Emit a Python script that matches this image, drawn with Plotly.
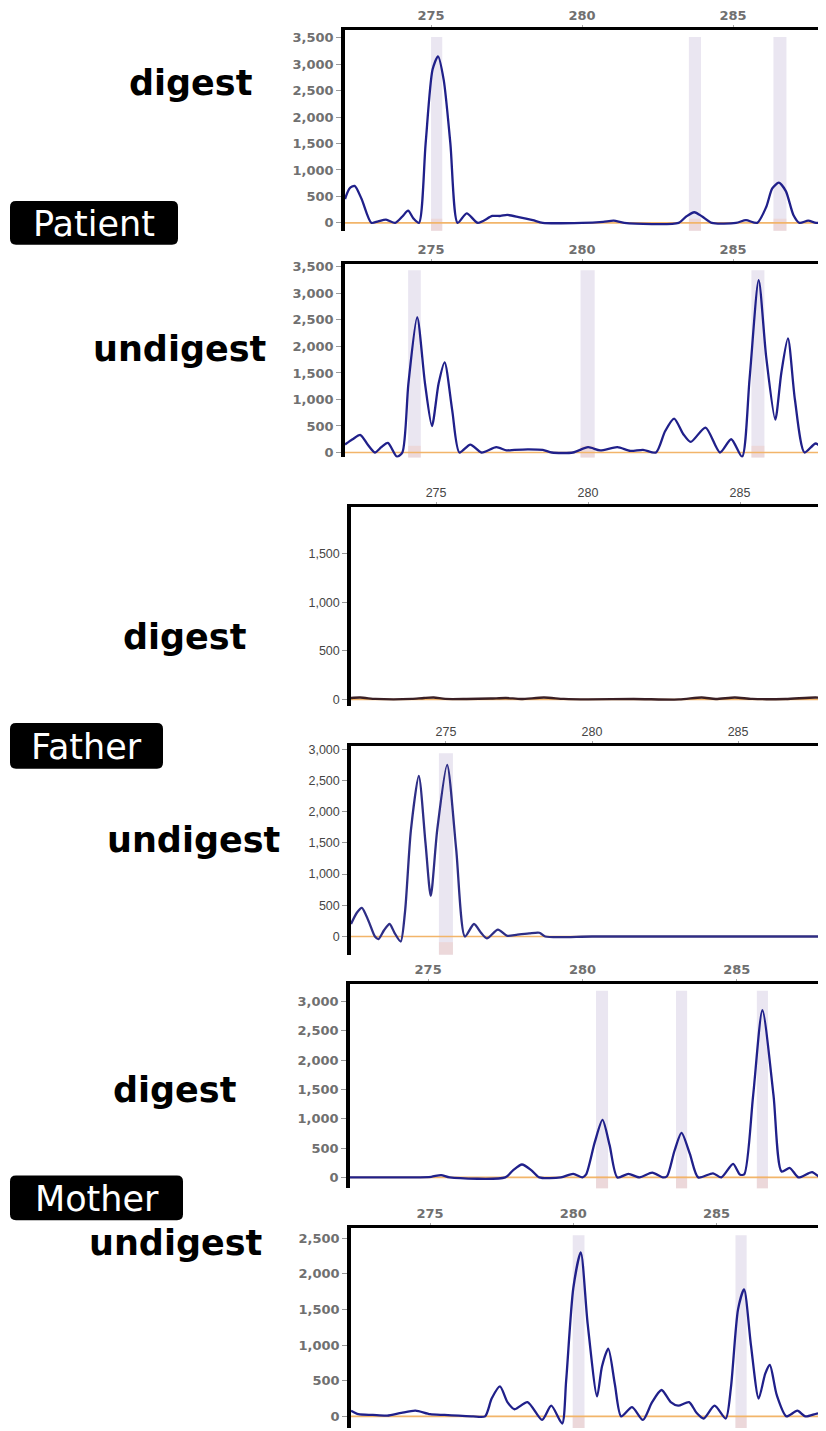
import plotly.graph_objects as go

# page body has an 8px default margin, so the figure is drawn offset by 8px
OFF = 8
W, H = 826 - OFF, 1431 - OFF

# ---------------- data (fragment size in bp vs. signal RFU) ----------------
p1_size = [272.15, 272.3, 272.47, 272.7, 273.02, 273.25, 273.51, 273.81, 274.05, 274.24, 274.42, 274.6,
           274.82, 275.05, 275.23, 275.42, 275.64, 275.88, 276.18, 276.55, 277.03, 277.3, 277.52, 277.9,
           278.37, 278.7, 280.0, 280.7, 281.05, 281.4, 283.2, 283.45, 283.72, 283.98, 284.3, 285.1,
           285.43, 285.8, 286.1, 286.3, 286.52, 286.75, 287.0, 287.2, 287.49, 287.75, 288.08]
p1_rfu = [450, 650, 700, 450, 0, 30, 60, 0, 120, 230, 80, 0,
          1500, 2900, 3150, 2700, 1500, 0, 180, 0, 130, 130, 150, 110,
          50, 0, 0, 20, 40, 0, 0, 120, 200, 120, 0, 0,
          50, 0, 300, 650, 760, 600, 150, 0, 40, 0, 0]
p1_band_lo = [275.0, 283.54, 286.34]
p1_band_hi = [275.37, 283.94, 286.77]

p2_size = [272.15, 272.4, 272.66, 272.9, 273.14, 273.35, 273.57, 273.87, 274.05, 274.25, 274.54, 274.8,
           275.03, 275.25, 275.45, 275.7, 275.94, 276.3, 276.67, 277.16, 277.5, 277.76, 278.2, 278.7,
           279.0, 279.7, 280.2, 280.6, 281.17, 281.6, 282.02, 282.45, 282.75, 283.05, 283.35, 283.6,
           284.09, 284.57, 284.94, 285.3, 285.55, 285.85, 286.1, 286.4, 286.6, 286.82, 287.05, 287.37,
           287.74, 288.08]
p2_rfu = [150, 250, 330, 150, 0, 100, 180, -80, 0, 1300, 2550, 1300,
          500, 1300, 1700, 800, 0, 150, 0, 100, 40, 50, 60, 50,
          0, 0, 100, 40, 100, 30, 50, 0, 400, 640, 350, 200,
          470, 0, 250, -80, 1400, 3250, 1800, 620, 1500, 2150, 1000, 0,
          170, 0]
p2_band_lo = [274.24, 279.95, 285.61]
p2_band_hi = [274.66, 280.42, 286.04]

p3_size = [272.2, 272.5, 273.0, 273.6, 274.2, 274.6, 274.92, 275.3, 276.0, 276.8, 277.3, 277.8,
           278.55, 279.2, 280.0, 281.5, 283.0, 283.74, 284.2, 284.83, 285.4, 286.5, 287.49, 287.83]
p3_rfu = [15, 20, 5, 0, 5, 15, 20, 5, 5, 10, 15, 5,
          20, 5, 0, 5, 0, 20, 5, 20, 5, 5, 20, 10]

p4_size = [271.75, 271.95, 272.12, 272.35, 272.57, 272.69, 272.88, 273.07, 273.25, 273.45, 273.6, 273.8,
           274.07, 274.3, 274.48, 274.7, 275.04, 275.35, 275.65, 275.96, 276.2, 276.4, 276.78, 277.1,
           277.45, 277.85, 278.2, 278.4, 280.0, 284.0, 288.01]
p4_rfu = [200, 380, 460, 250, 0, -40, 100, 200, 50, -80, 400, 1700,
          2570, 1500, 650, 1700, 2750, 1400, 0, 200, 60, -30, 110, 10,
          30, 50, 60, 0, 0, 0, 0]
p4_band_lo = [274.76]
p4_band_hi = [275.24]

p5_size = [272.47, 274.5, 275.1, 275.42, 275.7, 277.5, 277.75, 278.04, 278.35, 278.6, 279.3, 279.7,
           280.0, 280.12, 280.4, 280.65, 280.88, 281.13, 281.49, 281.85, 282.26, 282.6, 282.74, 282.98,
           283.21, 283.48, 283.75, 284.23, 284.5, 284.88, 285.1, 285.24, 285.53, 285.83, 286.19, 286.45,
           286.72, 287.0, 287.44, 287.7, 287.89]
p5_rfu = [0, 0, 10, 40, 0, 0, 120, 220, 120, 0, 0, 60,
          0, 50, 600, 980, 550, 0, 60, 0, 80, 0, 20, 450,
          760, 400, 0, 70, 0, 230, 50, 50, 1400, 2850, 1400, 100,
          160, 0, 90, 0, 0]
p5_band_lo = [280.44, 283.03, 285.65]
p5_band_hi = [280.83, 283.39, 286.01]

p6_size = [272.24, 272.5, 273.0, 273.5, 274.0, 274.49, 275.0, 275.5, 276.0, 276.5, 276.92, 277.15,
           277.44, 277.7, 277.95, 278.4, 278.91, 279.23, 279.61, 279.75, 280.0, 280.26, 280.5, 280.83,
           281.0, 281.22, 281.45, 281.67, 282.05, 282.43, 282.75, 283.08, 283.4, 283.66, 284.04, 284.3,
           284.55, 284.93, 285.32, 285.5, 285.75, 285.96, 286.2, 286.47, 286.7, 286.86, 287.1, 287.44,
           287.82, 288.1, 288.5, 288.82]
p6_rfu = [80, 30, 20, 10, 50, 80, 30, 20, 10, 0, 0, 250,
          420, 200, 100, 200, -50, 150, -100, 500, 1800, 2300, 1300, 280,
          700, 950, 450, 0, 130, -50, 200, 370, 200, 150, 200, 50,
          -30, 150, -30, 400, 1500, 1780, 1000, 250, 600, 720, 300, 0,
          80, 0, 40, 60]
p6_band_lo = [279.98, 285.66]
p6_band_hi = [280.39, 286.05]

x_ticks = [275, 280, 285]
y_ticks_p1 = [0, 500, 1000, 1500, 2000, 2500, 3000, 3500]
y_ticks_p2 = [0, 500, 1000, 1500, 2000, 2500, 3000, 3500]
y_ticks_p3 = [0, 500, 1000, 1500]
y_ticks_p4 = [0, 500, 1000, 1500, 2000, 2500, 3000]
y_ticks_p5 = [0, 500, 1000, 1500, 2000, 2500, 3000]
y_ticks_p6 = [0, 500, 1000, 1500, 2000, 2500]

row_labels = ["digest", "undigest", "digest", "undigest", "digest", "undigest"]
group_labels = ["Patient", "Father", "Mother"]

# ---------------- layout geometry (screen pixels) ----------------
panels = [
    dict(left=345, top=25, bottom=227, xr=[272.15, 288.08], yr=[-150, 3650],
         x=p1_size, y=p1_rfu, blo=p1_band_lo, bhi=p1_band_hi, yt=y_ticks_p1, style="a"),
    dict(left=345, top=260, bottom=455, xr=[272.15, 288.08], yr=[-94, 3562],
         x=p2_size, y=p2_rfu, blo=p2_band_lo, bhi=p2_band_hi, yt=y_ticks_p2, style="a"),
    dict(left=351, top=505, bottom=705, xr=[272.2, 287.83], yr=[-68, 1976],
         x=p3_size, y=p3_rfu, blo=[], bhi=[], yt=y_ticks_p3, style="b"),
    dict(left=351, top=745, bottom=955, xr=[271.75, 288.01], yr=[-291, 3053],
         x=p4_size, y=p4_rfu, blo=p4_band_lo, bhi=p4_band_hi, yt=y_ticks_p4, style="b"),
    dict(left=350, top=984, bottom=1190, xr=[272.47, 287.89], yr=[-187, 3306],
         x=p5_size, y=p5_rfu, blo=p5_band_lo, bhi=p5_band_hi, yt=y_ticks_p5, style="a"),
    dict(left=351, top=1230, bottom=1431, xr=[272.24, 288.82], yr=[-163, 2639],
         x=p6_size, y=p6_rfu, blo=p6_band_lo, bhi=p6_band_hi, yt=y_ticks_p6, style="a"),
]

def px(x):
    return (x - OFF) / W

def py(y):
    return max(0.0, 1 - (y - OFF) / H)

fig = go.Figure()
layout = dict(width=W, height=H, margin=dict(l=0, r=0, t=0, b=0),
              paper_bgcolor="white", plot_bgcolor="white", showlegend=False)

fontA = dict(family="DejaVu Sans", size=13, color="#707070", weight="bold")
fontB = dict(family="Liberation Sans, Arial", size=12.5, color="#454545")

shapes = []
for i, p in enumerate(panels, start=1):
    xa = "xaxis" if i == 1 else f"xaxis{i}"
    ya = "yaxis" if i == 1 else f"yaxis{i}"
    xr_ = "x" if i == 1 else f"x{i}"
    yr_ = "y" if i == 1 else f"y{i}"
    tf = fontA if p["style"] == "a" else fontB
    layout[xa] = dict(domain=[px(p["left"]), 1], range=p["xr"], side="top", anchor=yr_,
                      showline=True, linecolor="black", linewidth=2.5, mirror=False,
                      ticks="outside", ticklen=2, tickcolor="#aaaaaa", tickvals=x_ticks,
                      tickfont=tf, showgrid=False, zeroline=False, fixedrange=True)
    layout[ya] = dict(domain=[py(p["bottom"]), py(p["top"])], range=p["yr"], anchor=xr_,
                      showline=True, linecolor="black", linewidth=3.5,
                      ticks="outside", ticklen=5, tickcolor="#999999", tickvals=p["yt"],
                      tickformat=",d", tickfont=tf, showgrid=False, zeroline=False, fixedrange=True)
    for lo, hi in zip(p["blo"], p["bhi"]):
        shapes.append(dict(type="rect", xref=xr_, yref=f"{yr_} domain", x0=lo, x1=hi, y0=0, y1=0.965,
                           fillcolor="rgba(216,210,230,0.55)", line=dict(width=0), layer="below"))
        shapes.append(dict(type="rect", xref=xr_, yref=f"{yr_} domain", x0=lo, x1=hi, y0=0, y1=0.06,
                           fillcolor="rgba(240,200,190,0.45)", line=dict(width=0), layer="below"))
    shapes.append(dict(type="line", xref=f"{xr_} domain", yref=yr_, x0=0, x1=1, y0=0, y1=0,
                       line=dict(color="#f2b56a", width=1.6), layer="below"))
    if i == 3:
        lc = "#3a1f24"
    elif i == 4:
        lc = "#2e2e86"
    else:
        lc = "#20208a"
    fig.add_trace(go.Scatter(x=p["x"], y=p["y"], mode="lines", xaxis=xr_, yaxis=yr_,
                             line=dict(color=lc, width=2.3, shape="spline", smoothing=0.7),
                             hoverinfo="skip"))

boxes = [(10, 197, 178, 241), (10, 722, 163, 768), (10, 1177, 183, 1222)]
box_text_font = dict(family="DejaVu Sans", size=35, color="white")
annotations = []
for (x0, y0, x1, y1), lab in zip(boxes, group_labels):
    r = 6
    path = (f"M {px(x0 + r)} {py(y0)} L {px(x1 - r)} {py(y0)} Q {px(x1)} {py(y0)} {px(x1)} {py(y0 + r)} "
            f"L {px(x1)} {py(y1 - r)} Q {px(x1)} {py(y1)} {px(x1 - r)} {py(y1)} "
            f"L {px(x0 + r)} {py(y1)} Q {px(x0)} {py(y1)} {px(x0)} {py(y1 - r)} "
            f"L {px(x0)} {py(y0 + r)} Q {px(x0)} {py(y0)} {px(x0 + r)} {py(y0)} Z")
    shapes.append(dict(type="path", xref="paper", yref="paper", path=path,
                       fillcolor="black", line=dict(width=0)))
    annotations.append(dict(x=px((x0 + x1) / 2), y=py((y0 + y1) / 2 + 1), xref="paper", yref="paper",
                            text=lab, showarrow=False, font=box_text_font,
                            xanchor="center", yanchor="middle"))

row_pos = [(190, 78), (179, 346), (184, 636), (193, 840), (174, 1091), (175, 1245)]
for (cx, cy), lab in zip(row_pos, row_labels):
    annotations.append(dict(x=px(cx), y=py(cy), xref="paper", yref="paper", text=f"<b>{lab}</b>",
                            showarrow=False, xanchor="center", yanchor="middle",
                            font=dict(family="DejaVu Sans", size=35, color="black")))

layout["shapes"] = shapes
layout["annotations"] = annotations
fig.update_layout(**layout)
fig.write_html("out.html")
